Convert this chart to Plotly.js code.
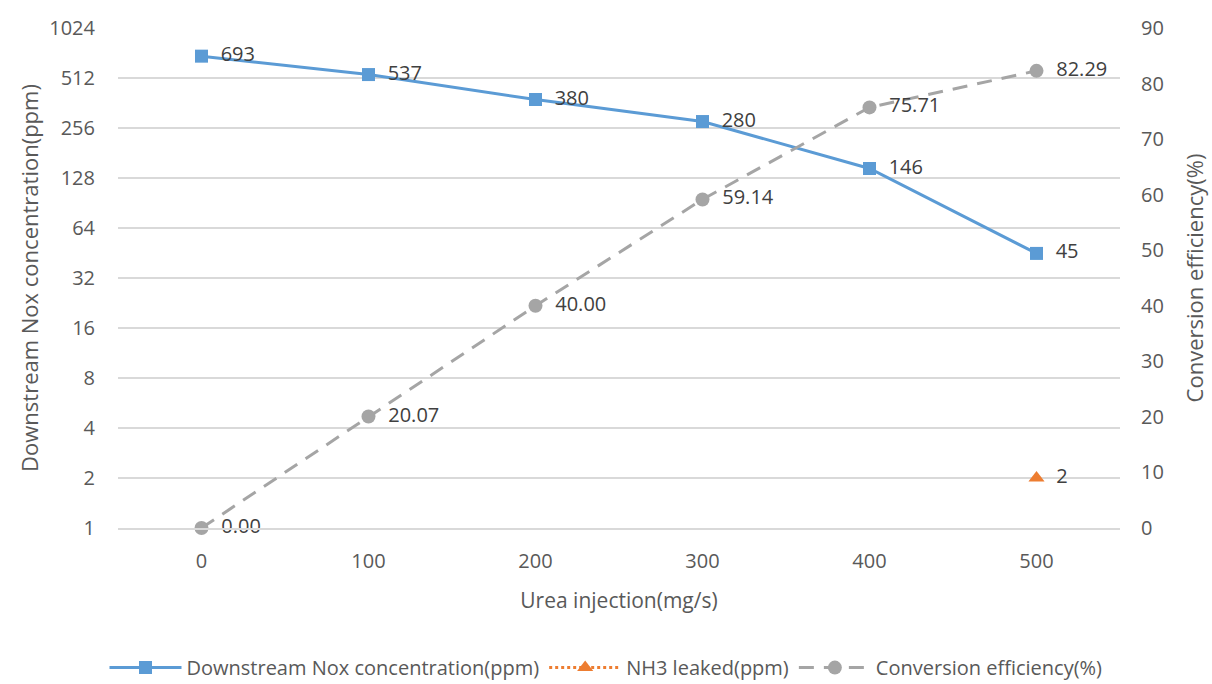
<!DOCTYPE html>
<html>
<head>
<meta charset="utf-8">
<script src="https://cdn.plot.ly/plotly-3.0.1.min.js"></script>
<style>html,body{margin:0;padding:0;background:#fff}#chart{width:1212px;height:684px}</style>
</head>
<body>
<div id="chart"></div>
<script>
// Urea injection rates (mg/s)
const ureaInjection = [0, 100, 200, 300, 400, 500];
// Downstream NOx concentration (ppm), left log axis
const noxDownstream = [693, 537, 380, 280, 146, 45];
// NH3 slip (ppm), only measured at the highest injection rate
const nh3Leaked = [null, null, null, null, null, 2];
// Conversion efficiency (%), right axis
const conversionEff = [0.00, 20.07, 40.00, 59.14, 75.71, 82.29];
const conversionLabels = conversionEff.map(v => v.toFixed(2));

const leftTicks = [1, 2, 4, 8, 16, 32, 64, 128, 256, 512, 1024];
const rightTicks = [0, 10, 20, 30, 40, 50, 60, 70, 80, 90];

const FONT = 'Open Sans, sans-serif';
const TEXT = '#595959';
const labelFont = {family: FONT, size: 20, color: '#404040'};
// small gap between each marker and its value label
const pad = s => '\u2002' + s;

const traces = [
  {
    name: 'Downstream Nox concentration(ppm)',
    x: ureaInjection, y: noxDownstream,
    mode: 'lines+markers+text',
    text: noxDownstream.map(v => pad(String(v))),
    textposition: 'middle right',
    textfont: labelFont,
    line: {color: '#5B9BD5', width: 3},
    marker: {symbol: 'square', size: 13, color: '#5B9BD5'},
    yaxis: 'y', cliponaxis: false
  },
  {
    name: 'NH3 leaked(ppm)',
    x: ureaInjection, y: nh3Leaked,
    mode: 'lines+markers+text',
    text: nh3Leaked.map(v => v == null ? '' : pad(String(v))),
    textposition: 'middle right',
    textfont: labelFont,
    line: {color: '#ED7D31', width: 3, dash: 'dot'},
    marker: {symbol: 'triangle-up', size: 14, color: '#ED7D31'},
    yaxis: 'y', cliponaxis: false
  },
  {
    name: 'Conversion efficiency(%)',
    x: ureaInjection, y: conversionEff,
    mode: 'lines+markers+text',
    text: conversionLabels.map(pad),
    textposition: 'middle right',
    textfont: labelFont,
    line: {color: '#A5A5A5', width: 3, dash: '15px,10px'},
    marker: {symbol: 'circle', size: 14, color: '#A5A5A5'},
    yaxis: 'y2', cliponaxis: false
  }
];

const layout = {
  width: 1212, height: 684,
  margin: {l: 118, r: 92, t: 28, b: 156},
  paper_bgcolor: '#fff', plot_bgcolor: '#fff',
  font: {family: FONT, size: 20, color: TEXT},
  showlegend: true,
  legend: {
    orientation: 'h', x: 0.5, xanchor: 'center', xref: 'container',
    y: 0.024, yanchor: 'middle', yref: 'container',
    font: {family: FONT, size: 20, color: TEXT},
    itemwidth: 72, traceorder: 'normal'
  },
  xaxis: {
    range: [-50, 550],
    tickmode: 'array', tickvals: ureaInjection, ticktext: ureaInjection.map(String),
    showgrid: false, zeroline: false,
    showline: true, linecolor: '#D9D9D9', linewidth: 2,
    ticks: '', ticklen: 0,
    ticklabelstandoff: 14,
    tickfont: {family: FONT, size: 20, color: TEXT},
    title: {text: 'Urea injection(mg/s)', font: {family: FONT, size: 21, color: TEXT}, standoff: 20}
  },
  yaxis: {
    type: 'log', range: [0, Math.log10(1024)],
    tickmode: 'array', tickvals: leftTicks, ticktext: leftTicks.map(String),
    showgrid: true, gridcolor: '#D9D9D9', gridwidth: 1.5,
    zeroline: false, showline: false, ticks: '',
    tickfont: {family: FONT, size: 20, color: TEXT},
    ticklabelstandoff: 22,
    title: {text: 'Downstream Nox concentration(ppm)', font: {family: FONT, size: 22, color: TEXT}, standoff: 4}
  },
  yaxis2: {
    overlaying: 'y', side: 'right', range: [0, 90],
    tickmode: 'array', tickvals: rightTicks,
    showgrid: false, zeroline: false, showline: false, ticks: '',
    tickfont: {family: FONT, size: 20, color: TEXT},
    ticklabelstandoff: 20,
    title: {text: 'Conversion efficiency(%)', font: {family: FONT, size: 22, color: TEXT}, standoff: 24}
  }
};

Plotly.newPlot('chart', traces, layout, {displayModeBar: false, staticPlot: true});
</script>
</body>
</html>
